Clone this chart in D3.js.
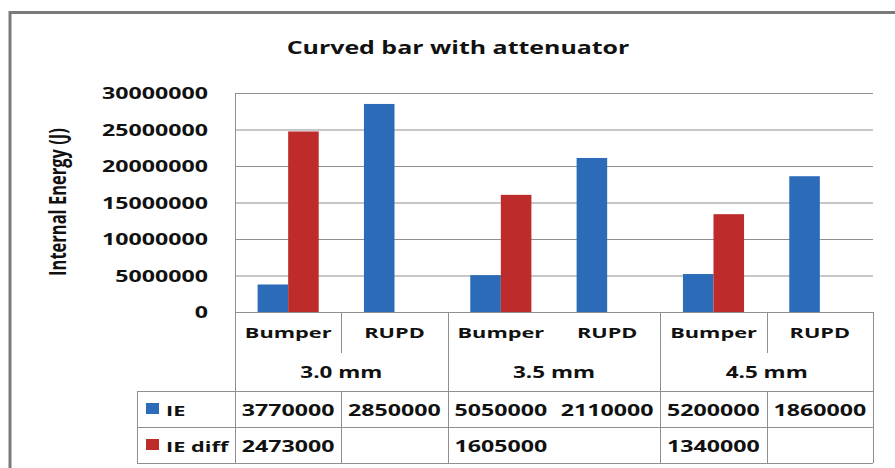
<!DOCTYPE html>
<html>
<head>
<meta charset="utf-8">
<script src="https://cdn.jsdelivr.net/npm/d3@7"></script>
<style>
  body { margin: 0; background: #fff; }
  text { font-family: "Open Sans", sans-serif; font-weight: bold; fill: #111; }
</style>
</head>
<body>
<svg id="chart" width="895" height="468"></svg>
<script>
// data
const categories = ["Bumper", "RUPD", "Bumper", "RUPD", "Bumper", "RUPD"];
const groups = ["3.0 mm", "3.5 mm", "4.5 mm"];
const series = ["IE", "IE diff"];
const ieValues = [3770000, 28500000, 5050000, 21100000, 5200000, 18600000];
const diffValues = [24730000, null, 16050000, null, 13400000, null];
// table cells as printed (cells cut the 8-digit numbers)
const ieLabels = ["3770000", "2850000", "5050000", "2110000", "5200000", "1860000"];
const diffLabels = ["2473000", "", "1605000", "", "1340000", ""];
const yTicks = [0, 5000000, 10000000, 15000000, 20000000, 25000000, 30000000];

const colors = {"IE": "#2c6bb8", "IE diff": "#bd2b2a"};
const SX = 1.45; // the picture is stretched sideways
const gridColor = "#8f8f8f";

const svg = d3.select("#chart");
const plotLeft = 235, plotRight = 873, plotTop = 93, plotBottom = 312;
const catRowBottom = 391, rowH = 36;

const x = d3.scaleBand().domain(d3.range(categories.length)).range([plotLeft, plotRight]).padding(0);
const x1 = d3.scaleBand().domain(series).range([0, x.bandwidth()]).paddingInner(0).paddingOuter(0.74);
const y = d3.scaleLinear().domain([0, 30000000]).range([plotBottom, plotTop]);

function label(g, px, py, txt, size, anchor) {
    return g.append("text")
        .attr("transform", "translate(" + px + "," + py + ") scale(" + SX + ",1)")
        .attr("text-anchor", anchor || "middle")
        .style("font-size", size + "px")
        .text(txt);
}

// outer frame
svg.append("path")
    .attr("d", "M10,470 V12.5 H897")
    .attr("fill", "none").attr("stroke", "#7a7a7a").attr("stroke-width", 3);

// title
label(svg, 458, 54, "Curved bar with attenuator", 17.2);

// gridlines
svg.append("g").selectAll("line").data(yTicks.filter(d => d > 0)).join("line")
    .attr("x1", plotLeft).attr("x2", plotRight)
    .attr("y1", d => y(d) + 0.5).attr("y2", d => y(d) + 0.5)
    .attr("stroke", gridColor);

// y tick labels
const yl = svg.append("g");
yTicks.forEach(t => label(yl, 208, y(t) + 6, String(t), 16, "end"));

// y title
svg.append("text")
    .attr("transform", "translate(66,202) scale(" + SX + ",1) rotate(-90)")
    .attr("text-anchor", "middle")
    .style("font-size", "16.5px")
    .text("Internal Energy (J)");

// bars
const rows = categories.map((c, i) => ({i: i, vals: [ieValues[i], diffValues[i]]}));
svg.append("g").selectAll("g").data(rows).join("g")
    .attr("transform", d => "translate(" + x(d.i) + ",0)")
    .selectAll("rect")
    .data(d => series.map((s, k) => ({s: s, v: d.vals[k]})).filter(e => e.v != null))
    .join("rect")
    .attr("x", e => x1(e.s))
    .attr("width", x1.bandwidth())
    .attr("y", e => y(e.v))
    .attr("height", e => y(0) - y(e.v))
    .attr("fill", e => colors[e.s]);

// table lines
const tl = svg.append("g").attr("stroke", gridColor).attr("fill", "none");
const tableLeft = 137;
const rowLines = [plotBottom, catRowBottom, catRowBottom + rowH, catRowBottom + 2 * rowH];
rowLines.forEach((ry, k) => {
    tl.append("line").attr("x1", k === 0 ? plotLeft : tableLeft).attr("x2", plotRight)
        .attr("y1", ry + 0.5).attr("y2", ry + 0.5);
});
const tableBottom = catRowBottom + 2 * rowH;
tl.append("line").attr("x1", plotLeft + 0.5).attr("x2", plotLeft + 0.5).attr("y1", plotTop).attr("y2", tableBottom);
tl.append("line").attr("x1", plotRight + 0.5).attr("x2", plotRight + 0.5).attr("y1", plotBottom).attr("y2", tableBottom);
tl.append("line").attr("x1", tableLeft + 0.5).attr("x2", tableLeft + 0.5).attr("y1", catRowBottom).attr("y2", tableBottom);
// boundaries between categories: group edges run full height, inner ones are short
const hiddenDividers = [3]; // the 3.5 mm group shows no inner divider
d3.range(1, categories.length).forEach(b => {
    const bx = Math.round(x(b)) + 0.5;
    if (b % 2 === 0) {
        tl.append("line").attr("x1", bx).attr("x2", bx).attr("y1", plotBottom).attr("y2", tableBottom);
    } else if (!hiddenDividers.includes(b)) {
        tl.append("line").attr("x1", bx).attr("x2", bx).attr("y1", plotBottom).attr("y2", plotBottom + 41);
        tl.append("line").attr("x1", bx).attr("x2", bx).attr("y1", catRowBottom).attr("y2", tableBottom);
    }
});

// category and group labels
const cl = svg.append("g");
categories.forEach((c, i) => label(cl, x(i) + x.bandwidth() / 2, 338, c, 15));
groups.forEach((g, k) => label(cl, x(2 * k) + x.bandwidth(), 378, g, 15.5));

// data rows
const dl = svg.append("g");
[ieLabels, diffLabels].forEach((labels, r) => {
    const base = catRowBottom + r * rowH;
    labels.forEach((t, i) => { if (t) label(dl, x(i) + x.bandwidth() / 2, base + 25, t, 16); });
    dl.append("rect").attr("x", 146).attr("y", base + 12).attr("width", 13).attr("height", 11)
        .attr("fill", colors[series[r]]);
    label(dl, 166, base + 25, series[r], 15, "start");
});
</script>
</body>
</html>
